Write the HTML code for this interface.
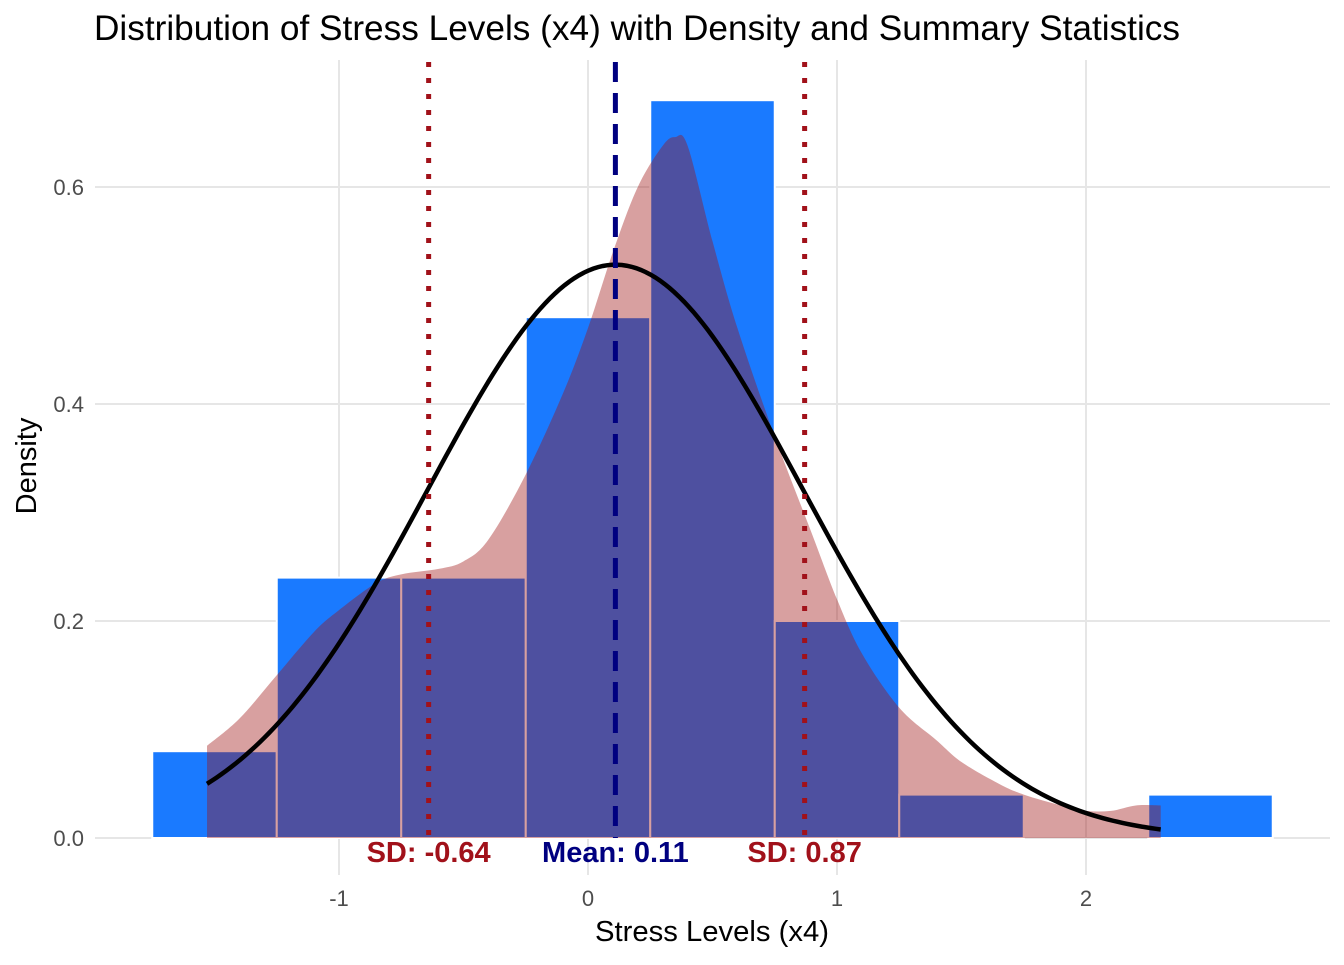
<!DOCTYPE html>
<html><head><meta charset="utf-8"><style>
body{margin:0;background:#fff;width:1344px;height:960px;overflow:hidden}
svg text{font-family:"Liberation Sans",Arial,sans-serif}
</style></head><body>
<svg id="chart" width="1344" height="960">
<text x="94" y="40" font-size="35" fill="#000" textLength="1086" lengthAdjust="spacingAndGlyphs">Distribution of Stress Levels (x4) with Density and Summary Statistics</text>
<g id="grid"></g>
<g id="bars"></g>
<g id="dens"></g>
<g id="normal"></g>
<g id="lines"></g>
<g id="axes"></g>
<text x="712" y="941" font-size="29" text-anchor="middle" textLength="234" lengthAdjust="spacingAndGlyphs">Stress Levels (x4)</text>
<text transform="translate(36,466) rotate(-90)" font-size="29" text-anchor="middle">Density</text>
</svg>
<script>
const binStarts=[-1.75,-1.25,-0.75,-0.25,0.25,0.75,1.25,1.75,2.25];
const binHeights=[0.08,0.24,0.24,0.48,0.68,0.2,0.04,0,0.04];
const binWidth=0.5;
const densX=[-1.53,-1.4,-1.25,-1.1,-1,-0.85,-0.75,-0.6,-0.5,-0.4,-0.25,-0.1,0,0.1,0.2,0.3,0.35,0.4,0.5,0.6,0.75,0.9,1.0,1.1,1.25,1.4,1.5,1.65,1.75,1.9,2,2.1,2.2,2.3];
const densY=[0.085,0.11,0.15,0.19,0.21,0.235,0.243,0.248,0.255,0.275,0.335,0.41,0.47,0.54,0.6,0.638,0.646,0.638,0.55,0.47,0.37,0.28,0.22,0.17,0.12,0.09,0.07,0.05,0.04,0.03,0.025,0.025,0.03,0.03];
const stats=[0.11,0.755];
const xTicks=[-1,0,1,2];
const yTicks=[0,0.2,0.4,0.6];
const markers=[{v:-0.64,label:"SD: -0.64",c:"#a1111a",dash:"5,11"},{v:0.11,label:"Mean: 0.11",c:"#000080",dash:"20,11"},{v:0.87,label:"SD: 0.87",c:"#a1111a",dash:"5,11"}];
const NS="http://www.w3.org/2000/svg";
const X=v=>588+v*249, Y=v=>838-v*1085;
function mk(p,t,a){const e=document.createElementNS(NS,t);for(const k in a)e.setAttribute(k,a[k]);document.getElementById(p).appendChild(e);return e;}
xTicks.forEach(t=>{const l=mk('grid','line',{x1:X(t),x2:X(t),y1:60,y2:875,stroke:'#e6e6e6','stroke-width':2});

const tx=mk('axes','text',{x:X(t),y:906,'font-size':22,fill:'#4d4d4d','text-anchor':'middle'});tx.textContent=t;
});
yTicks.forEach(t=>{const l=mk('grid','line',{x1:95,x2:1330,y1:Y(t),y2:Y(t),stroke:'#e6e6e6','stroke-width':2});

const tx=mk('axes','text',{x:84,y:Y(t)+8,'font-size':22,fill:'#4d4d4d','text-anchor':'end'});tx.textContent=t.toFixed(1);
});
binStarts.forEach((s,i)=>{if(binHeights[i]<=0)return;const r=mk('bars','rect',{x:X(s),y:Y(binHeights[i]),width:binWidth*249,height:binHeights[i]*1085,fill:'#1a7aff',stroke:'#fff','stroke-width':2});
});
const pts=densX.map((x,i)=>[X(x),Y(densY[i])]);
let d='M'+pts[0][0]+','+Y(0)+' L'+pts[0][0]+','+pts[0][1];
for(let i=0;i<pts.length-1;i++){const p0=pts[Math.max(i-1,0)],p1=pts[i],p2=pts[i+1],p3=pts[Math.min(i+2,pts.length-1)];
d+=' C'+(p1[0]+(p2[0]-p0[0])/6)+','+(p1[1]+(p2[1]-p0[1])/6)+' '+(p2[0]-(p3[0]-p1[0])/6)+','+(p2[1]-(p3[1]-p1[1])/6)+' '+p2[0]+','+p2[1];}
d+=' L'+pts[pts.length-1][0]+','+Y(0)+'Z';
const dp=mk('dens','path',{d:d,fill:'rgb(157,17,17)','fill-opacity':0.4});

let nd='';for(let i=0;i<=200;i++){const x=-1.53+3.83*i/200;const y=Math.exp(-0.5*((x-stats[0])/stats[1])**2)/(stats[1]*Math.sqrt(2*Math.PI));nd+=(i?' L':'M')+X(x)+','+Y(y);}
const np=mk('normal','path',{d:nd,fill:'none',stroke:'#000','stroke-width':4.5});

markers.forEach(m=>{const l=mk('lines','line',{x1:X(m.v),x2:X(m.v),y1:62,y2:838,stroke:m.c,'stroke-width':5,'stroke-dasharray':m.dash});

const t=mk('lines','text',{x:X(m.v),y:862,'font-size':29,'font-weight':'bold',fill:m.c,'text-anchor':'middle'});t.textContent=m.label;
});
</script>
</body></html>
